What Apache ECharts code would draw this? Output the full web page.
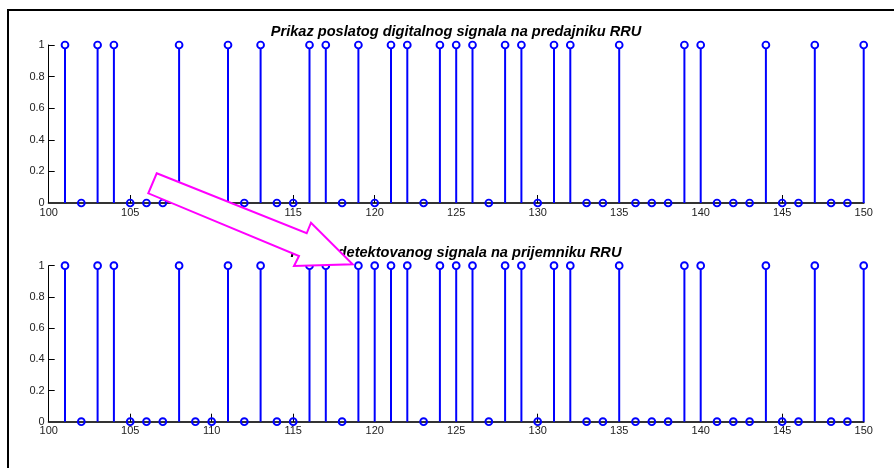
<!DOCTYPE html>
<html>
<head>
<meta charset="utf-8">
<script src="https://cdn.jsdelivr.net/npm/echarts@6/dist/echarts.min.js"></script>
<style>
html,body{margin:0;padding:0;background:#fff;}
#chart{width:894px;height:468px;}
</style>
</head>
<body>
<div id="chart"></div>
<script>
// ---- data ----
const samples = [101,102,103,104,105,106,107,108,109,110,111,112,113,114,115,116,117,118,119,120,
                 121,122,123,124,125,126,127,128,129,130,131,132,133,134,135,136,137,138,139,140,
                 141,142,143,144,145,146,147,148,149,150];
const sentSignal = [1,0,1,1,0,0,0,1,0,0,1,0,1,0,0,1,1,0,1,0,
                    1,1,0,1,1,1,0,1,1,0,1,1,0,0,1,0,0,0,1,1,
                    0,0,0,1,0,0,1,0,0,1];
const detectedSignal = [1,0,1,1,0,0,0,1,0,0,1,0,1,0,0,1,1,0,1,1,
                        1,1,0,1,1,1,0,1,1,0,1,1,0,0,1,0,0,0,1,1,
                        0,0,0,1,0,0,1,0,0,1];
const titles = ['Prikaz poslatog digitalnog signala na predajniku RRU',
                'Prikaz detektovanog signala na prijemniku RRU'];
const xTicks = {min: 100, max: 150, interval: 5};
const yTicks = {min: 0, max: 1, interval: 0.2};

// ---- chart ----
const chart = echarts.init(document.getElementById('chart'));
const FONT = '"Liberation Sans", Arial, Helvetica, sans-serif';
const BLUE = '#0000ff';

function stemRender(params, api) {
  const x = api.value(0), v = api.value(1);
  const p = api.coord([x, v]);
  const p0 = api.coord([x, 0]);
  const r = 3.4;
  const children = [];
  if (v !== 0) {
    children.push({type: 'line', shape: {x1: p0[0], y1: p0[1], x2: p[0], y2: p[1] + r},
      style: {stroke: BLUE, lineWidth: 2}});
  }
  children.push({type: 'circle', shape: {cx: p[0], cy: p[1], r: r},
    style: {stroke: BLUE, fill: 'none', lineWidth: 1.9}});
  return {type: 'group', children: children};
}

const grids = [
  {left: 48.7, right: 30.3, top: 45, height: 158},
  {left: 48.7, right: 30.3, top: 265.7, height: 156}
];
function xAxisFor(i) {
  return {gridIndex: i, type: 'value', min: xTicks.min, max: xTicks.max, interval: xTicks.interval,
    z: 1,
    axisLine: {show: true, onZero: false, lineStyle: {color: '#333', width: 2}},
    axisTick: {show: true, inside: true, length: 8, lineStyle: {color: '#000', width: 1}},
    axisLabel: {color: '#222', fontFamily: FONT, fontSize: 11, margin: 4},
    splitLine: {show: false}};
}
function yAxisFor(i) {
  return {gridIndex: i, type: 'value', min: yTicks.min, max: yTicks.max, interval: yTicks.interval,
    axisLine: {show: true, lineStyle: {color: '#000', width: 1}},
    axisTick: {show: true, inside: true, length: 6, lineStyle: {color: '#000', width: 1}},
    axisLabel: {color: '#222', fontFamily: FONT, fontSize: 11, margin: 4},
    splitLine: {show: false}};
}

const option = {
  animation: false,
  backgroundColor: '#fff',
  grid: grids,
  xAxis: [xAxisFor(0), xAxisFor(1)],
  yAxis: [yAxisFor(0), yAxisFor(1)],
  series: [
    {type: 'custom', xAxisIndex: 0, yAxisIndex: 0, renderItem: stemRender, clip: false, z: 3,
     data: samples.map((s, i) => [s, sentSignal[i]])},
    {type: 'custom', xAxisIndex: 1, yAxisIndex: 1, renderItem: stemRender, clip: false, z: 3,
     data: samples.map((s, i) => [s, detectedSignal[i]])}
  ],
  graphic: [
    // outer frame (top and left edges visible)
    {type: 'rect', z: 0, silent: true, shape: {x: 8, y: 10, width: 1000, height: 1000},
     style: {fill: 'none', stroke: '#000', lineWidth: 2}},
    {type: 'text', z: 10, x: 456, y: 32,
     style: {text: titles[0], font: 'italic bold 14.6px ' + FONT, fill: '#000',
             textAlign: 'center', textVerticalAlign: 'middle'}},
    {type: 'text', z: 10, x: 456, y: 252.5,
     style: {text: titles[1], font: 'italic bold 14.6px ' + FONT, fill: '#000',
             textAlign: 'center', textVerticalAlign: 'middle'}},
    // magenta annotation arrow
    {type: 'polygon', z: 100, silent: true,
     shape: {points: [[156.7,173.3],[306.7,233.3],[311,222.7],[352.7,264.3],[294,266],[299,256],[148.3,193.3]]},
     style: {fill: '#fff', stroke: '#ff00ff', lineWidth: 2}}
  ]
};
chart.setOption(option);
</script>
</body>
</html>
